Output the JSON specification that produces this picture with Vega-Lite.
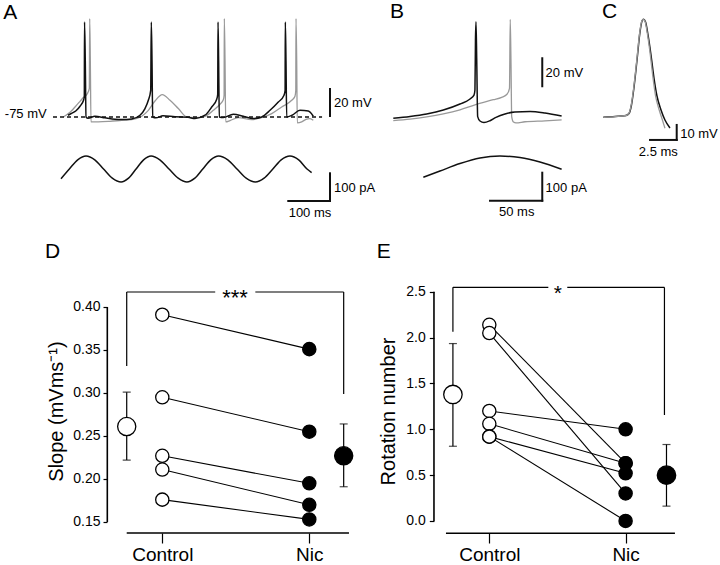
{
 "$schema": "https://vega.github.io/schema/vega-lite/v6.json",
 "padding": 0,
 "background": "white",
 "spacing": 0,
 "config": {
  "font": "Liberation Sans",
  "view": {"stroke": null},
  "text": {"color": "#000"},
  "axis": {"labelFont": "Liberation Sans", "titleFont": "Liberation Sans", "labelColor": "#000", "titleColor": "#000", "tickColor": "#000", "grid": false, "domain": false, "labelFlush": false, "labelOverlap": false}
 },
 "datasets": {
  "A_black": [{"t":16.8,"v":-73.8},{"t":26.4,"v":-72.4},{"t":36,"v":-70.7},{"t":45.6,"v":-67.6},{"t":54,"v":-63.5},{"t":55.9,"v":-60.7},{"t":56.4,"v":-9.5},{"t":58.2,"v":-35.9},{"t":60,"v":-75},{"t":64.7,"v":-75.9},{"t":81.5,"v":-74.5},{"t":105.5,"v":-75.6},{"t":129.5,"v":-76.6},{"t":145.6,"v":-76.8},{"t":169.5,"v":-76.4},{"t":189.4,"v":-73.8},{"t":201.4,"v":-69.2},{"t":209.4,"v":-63.5},{"t":215.1,"v":-56.6},{"t":216.5,"v":-9.5},{"t":218.2,"v":-35.9},{"t":219.9,"v":-75},{"t":227.8,"v":-75.6},{"t":244.6,"v":-74.2},{"t":273.4,"v":-74.9},{"t":304.6,"v":-75.2},{"t":321.3,"v":-76.1},{"t":345.3,"v":-73.8},{"t":361.4,"v":-68.1},{"t":373.4,"v":-62.7},{"t":375.8,"v":-59.3},{"t":376.5,"v":-9.5},{"t":378,"v":-35.9},{"t":379.6,"v":-75},{"t":389.2,"v":-75.4},{"t":413.2,"v":-73.1},{"t":437.2,"v":-74.5},{"t":461.1,"v":-76.1},{"t":481.3,"v":-75},{"t":501.2,"v":-70.4},{"t":521.1,"v":-64.7},{"t":534.8,"v":-60},{"t":537.4,"v":-56.6},{"t":537.9,"v":-9.5},{"t":539.5,"v":-35.9},{"t":541.2,"v":-75},{"t":553.9,"v":-73.8},{"t":573.1,"v":-70.4},{"t":593,"v":-70.9},{"t":605,"v":-74.5}],
  "A_gray": [{"t":5.5,"v":-75},{"t":21.6,"v":-71.8},{"t":33.6,"v":-68.1},{"t":45.6,"v":-64.2},{"t":53.5,"v":-61.6},{"t":63.1,"v":-58.9},{"t":67.9,"v":-55.2},{"t":68.8,"v":-7.1},{"t":70.3,"v":-35.9},{"t":71.9,"v":-78.4},{"t":89.4,"v":-78.4},{"t":117.5,"v":-78},{"t":145.6,"v":-77.3},{"t":169.5,"v":-76.8},{"t":193.5,"v":-74.5},{"t":209.4,"v":-70.4},{"t":225.4,"v":-64},{"t":242.9,"v":-59.6},{"t":261.4,"v":-63.5},{"t":281.3,"v":-69.2},{"t":301.4,"v":-75},{"t":321.3,"v":-75.4},{"t":345.3,"v":-74.5},{"t":365.2,"v":-70.4},{"t":381.3,"v":-66.2},{"t":389.2,"v":-63.1},{"t":391.1,"v":-60},{"t":391.6,"v":-7.1},{"t":393.3,"v":-35.9},{"t":395,"v":-78.4},{"t":405.3,"v":-77.5},{"t":425.2,"v":-75.4},{"t":457.3,"v":-76.8},{"t":481.3,"v":-75.4},{"t":505.3,"v":-72.7},{"t":529.2,"v":-68.1},{"t":553.2,"v":-63.5},{"t":561.1,"v":-60.7},{"t":563,"v":-56.6},{"t":563.5,"v":-7.1},{"t":565.2,"v":-35.9},{"t":566.6,"v":-79.1},{"t":577.2,"v":-78.4},{"t":587.5,"v":-76.6},{"t":597.1,"v":-76.1},{"t":605,"v":-77.3}],
  "A_cur": [{"t":0,"i":-35},{"t":20,"i":0},{"t":40,"i":33},{"t":60,"i":47},{"t":81,"i":33},{"t":102,"i":0},{"t":123,"i":-33},{"t":144,"i":-47},{"t":162,"i":-33},{"t":180,"i":0},{"t":198,"i":33},{"t":216,"i":47},{"t":237,"i":33},{"t":259,"i":0},{"t":281,"i":-33},{"t":302,"i":-47},{"t":321,"i":-33},{"t":340,"i":0},{"t":359,"i":33},{"t":378,"i":47},{"t":400,"i":33},{"t":422,"i":0},{"t":444,"i":-33},{"t":466,"i":-47},{"t":487,"i":-33},{"t":508,"i":0},{"t":528,"i":33},{"t":549,"i":47},{"t":570,"i":33},{"t":590,"i":0},{"t":601,"i":-13}],
  "B_black": [{"t":0,"v":-75},{"t":16,"v":-73.8},{"t":31.9,"v":-72.1},{"t":47.8,"v":-69.5},{"t":63.7,"v":-65.5},{"t":73.3,"v":-62.1},{"t":77.1,"v":-59.5},{"t":78,"v":-56.1},{"t":78.5,"v":-22.8},{"t":79,"v":-10.6},{"t":79.7,"v":-36},{"t":80.6,"v":-73.9},{"t":82.8,"v":-76.8},{"t":86.6,"v":-77.8},{"t":92.4,"v":-76.6},{"t":98.1,"v":-74.4},{"t":106.7,"v":-72.1},{"t":116.2,"v":-70.8},{"t":130.6,"v":-70.5},{"t":144.9,"v":-71.5},{"t":160.8,"v":-73.5}],
  "B_gray": [{"t":0,"v":-76.5},{"t":16,"v":-75.5},{"t":31.9,"v":-74},{"t":47.8,"v":-72},{"t":63.7,"v":-69.3},{"t":78,"v":-66},{"t":95.5,"v":-62.6},{"t":103.5,"v":-61},{"t":108.6,"v":-59},{"t":111,"v":-55},{"t":111.7,"v":-9},{"t":112.4,"v":-36.2},{"t":113.1,"v":-73.9},{"t":114.8,"v":-77.5},{"t":117.2,"v":-78.1},{"t":125.8,"v":-77.3},{"t":144.9,"v":-76.7},{"t":160.8,"v":-76.1}],
  "B_cur": [{"t":28.7,"i":-26},{"t":44.6,"i":-3.6},{"t":63.7,"i":23},{"t":82.8,"i":43},{"t":101.9,"i":50},{"t":121,"i":44.6},{"t":140.1,"i":28.6},{"t":160.8,"i":2.5}],
  "C_black": [{"t":-0.16,"v":-75.4},{"t":0.94,"v":-74.9},{"t":1.97,"v":-74.2},{"t":2.25,"v":-72.9},{"t":2.48,"v":-67.2},{"t":2.72,"v":-55.2},{"t":3.0,"v":-37.2},{"t":3.28,"v":-18.5},{"t":3.47,"v":-11.2},{"t":3.61,"v":-10.1},{"t":3.8,"v":-11.9},{"t":4.03,"v":-20.5},{"t":4.31,"v":-33.9},{"t":4.59,"v":-49.2},{"t":4.87,"v":-61.2},{"t":5.25,"v":-70.5},{"t":5.62,"v":-77.2},{"t":6.09,"v":-82.5}],
  "C_gray": [{"t":-0.16,"v":-75.4},{"t":0.94,"v":-74.9},{"t":1.97,"v":-74.2},{"t":2.23,"v":-72.9},{"t":2.46,"v":-67.2},{"t":2.7,"v":-55.2},{"t":2.98,"v":-37.2},{"t":3.26,"v":-18.5},{"t":3.45,"v":-11.2},{"t":3.6,"v":-10.1},{"t":3.77,"v":-11.9},{"t":3.99,"v":-20.5},{"t":4.25,"v":-33.9},{"t":4.5,"v":-49.2},{"t":4.74,"v":-61.2},{"t":5.08,"v":-70.5},{"t":5.38,"v":-77.2},{"t":5.62,"v":-82.7}],
  "D_pts": [{"cell":1,"cond":"Control","x":1,"y":0.391},{"cell":1,"cond":"Nic","x":2,"y":0.351},{"cell":2,"cond":"Control","x":1,"y":0.295},{"cell":2,"cond":"Nic","x":2,"y":0.255},{"cell":3,"cond":"Control","x":1,"y":0.227},{"cell":3,"cond":"Nic","x":2,"y":0.195},{"cell":4,"cond":"Control","x":1,"y":0.211},{"cell":4,"cond":"Nic","x":2,"y":0.170},{"cell":5,"cond":"Control","x":1,"y":0.176},{"cell":5,"cond":"Nic","x":2,"y":0.153}],
  "D_mean": [{"cond":"Control","x":0.758,"y":0.261},{"cond":"Nic","x":2.234,"y":0.227}],
  "D_err": [{"x":0.758,"y":0.222,"y2":0.301},{"x":2.234,"y":0.191,"y2":0.264}],
  "D_caps": [{"x":0.758,"y":0.222},{"x":0.758,"y":0.301},{"x":2.234,"y":0.191},{"x":2.234,"y":0.264}],
  "E_pts": [{"cell":1,"cond":"Control","x":1,"y":2.14},{"cell":1,"cond":"Nic","x":2,"y":0.63},{"cell":2,"cond":"Control","x":1,"y":2.05},{"cell":2,"cond":"Nic","x":2,"y":0.30},{"cell":3,"cond":"Control","x":1,"y":1.20},{"cell":3,"cond":"Nic","x":2,"y":1.00},{"cell":4,"cond":"Control","x":1,"y":1.06},{"cell":4,"cond":"Nic","x":2,"y":0.63},{"cell":5,"cond":"Control","x":1,"y":0.92},{"cell":5,"cond":"Nic","x":2,"y":0.52},{"cell":6,"cond":"Control","x":1,"y":0.92},{"cell":6,"cond":"Nic","x":2,"y":0.0}],
  "E_mean": [{"cond":"Control","x":0.733,"y":1.38},{"cond":"Nic","x":2.30,"y":0.50}],
  "E_err": [{"x":0.733,"y":0.815,"y2":1.935},{"x":2.30,"y":0.162,"y2":0.834}],
  "E_caps": [{"x":0.733,"y":0.815},{"x":0.733,"y":1.935},{"x":2.30,"y":0.162},{"x":2.30,"y":0.834}]
 },
 "vconcat": [
  {
   "spacing": 0,
   "bounds": "flush",
   "hconcat": [
    {
     "width": 360, "height": 235,
     "resolve": {"scale": {"y": "independent"}},
     "layer": [
      {
       "encoding": {
        "x": {"field": "t", "type": "quantitative", "scale": {"domain": [-146.3, 717]}, "axis": null},
        "y": {"field": "v", "type": "quantitative", "scale": {"domain": [-156.4, 5.69]}, "axis": null}
       },
       "layer": [
        {"data": {"name": "A_gray"}, "mark": {"type": "line", "stroke": "#999", "strokeWidth": 1.3, "interpolate": "monotone"}},
        {"data": {"name": "A_black"}, "mark": {"type": "line", "stroke": "#111", "strokeWidth": 1.5, "interpolate": "monotone"}},
        {"data": {"values": [{"t": -19.2, "t2": 626, "v": -75}]}, "mark": {"type": "rule", "stroke": "#111", "strokeWidth": 1.4, "strokeDash": [4, 3]}, "encoding": {"x2": {"field": "t2"}}},
        {"data": {"values": [{"t": 645, "v": -75, "v2": -55}]}, "mark": {"type": "rule", "stroke": "#111", "strokeWidth": 2}, "encoding": {"y2": {"field": "v2"}}},
        {"data": {"values": [{"t": 654.7, "v": -65.6, "label": "20 mV"}]}, "mark": {"type": "text", "align": "left", "baseline": "middle", "fontSize": 13}, "encoding": {"text": {"field": "label"}}},
        {"data": {"values": [{"t": -34.3, "v": -72.65, "label": "-75 mV"}]}, "mark": {"type": "text", "align": "right", "baseline": "middle", "fontSize": 13}, "encoding": {"text": {"field": "label"}}},
        {"data": {"values": [{"t": -138.4, "v": -3.13, "label": "A"}]}, "mark": {"type": "text", "align": "left", "baseline": "middle", "fontSize": 21}, "encoding": {"text": {"field": "label"}}}
       ]
      },
      {
       "encoding": {
        "x": {"field": "t", "type": "quantitative", "scale": {"domain": [-146.3, 717]}, "axis": null},
        "y": {"field": "i", "type": "quantitative", "scale": {"domain": [-238.3, 610.1]}, "axis": null}
       },
       "layer": [
        {"data": {"name": "A_cur"}, "mark": {"type": "line", "stroke": "#111", "strokeWidth": 1.5, "interpolate": "monotone"}},
        {"data": {"values": [{"t": 645, "t2": 645, "i": -15.5, "i2": -115.5}, {"t": 545, "t2": 645, "i": -115.5, "i2": -115.5}]}, "mark": {"type": "rule", "stroke": "#111", "strokeWidth": 2, "strokeCap": "square"}, "encoding": {"x2": {"field": "t2"}, "y2": {"field": "i2"}}},
        {"data": {"values": [{"t": 654.7, "i": -69.7, "label": "100 pA"}]}, "mark": {"type": "text", "align": "left", "baseline": "middle", "fontSize": 13}, "encoding": {"text": {"field": "label"}}},
        {"data": {"values": [{"t": 597, "i": -157.5, "label": "100 ms"}]}, "mark": {"type": "text", "align": "center", "baseline": "middle", "fontSize": 13}, "encoding": {"text": {"field": "label"}}}
       ]
      }
     ]
    },
    {
     "width": 230, "height": 235,
     "resolve": {"scale": {"y": "independent"}},
     "layer": [
      {
       "encoding": {
        "x": {"field": "t", "type": "quantitative", "scale": {"domain": [-31.8, 187.9]}, "axis": null},
        "y": {"field": "v", "type": "quantitative", "scale": {"domain": [-152.8, 3.87]}, "axis": null}
       },
       "layer": [
        {"data": {"name": "B_gray"}, "mark": {"type": "line", "stroke": "#999", "strokeWidth": 1.3, "interpolate": "monotone"}},
        {"data": {"name": "B_black"}, "mark": {"type": "line", "stroke": "#111", "strokeWidth": 1.5, "interpolate": "monotone"}},
        {"data": {"values": [{"t": 142.3, "v": -54.3, "v2": -34.3}]}, "mark": {"type": "rule", "stroke": "#111", "strokeWidth": 2}, "encoding": {"y2": {"field": "v2"}}},
        {"data": {"values": [{"t": 145.5, "v": -44.6, "label": "20 mV"}]}, "mark": {"type": "text", "align": "left", "baseline": "middle", "fontSize": 13}, "encoding": {"text": {"field": "label"}}},
        {"data": {"values": [{"t": -3.2, "v": -4.1, "label": "B"}]}, "mark": {"type": "text", "align": "left", "baseline": "middle", "fontSize": 21}, "encoding": {"text": {"field": "label"}}}
       ]
      },
      {
       "encoding": {
        "x": {"field": "t", "type": "quantitative", "scale": {"domain": [-31.8, 187.9]}, "axis": null},
        "y": {"field": "i", "type": "quantitative", "scale": {"domain": [-232.1, 607.1]}, "axis": null}
       },
       "layer": [
        {"data": {"name": "B_cur"}, "mark": {"type": "line", "stroke": "#111", "strokeWidth": 1.5, "interpolate": "monotone"}},
        {"data": {"values": [{"t": 142.3, "t2": 142.3, "i": -9.6, "i2": -109.6}, {"t": 92.4, "t2": 142.3, "i": -109.6, "i2": -109.6}]}, "mark": {"type": "rule", "stroke": "#111", "strokeWidth": 2, "strokeCap": "square"}, "encoding": {"x2": {"field": "t2"}, "y2": {"field": "i2"}}},
        {"data": {"values": [{"t": 145.5, "i": -65.4, "label": "100 pA"}]}, "mark": {"type": "text", "align": "left", "baseline": "middle", "fontSize": 13}, "encoding": {"text": {"field": "label"}}},
        {"data": {"values": [{"t": 117.9, "i": -149, "label": "50 ms"}]}, "mark": {"type": "text", "align": "center", "baseline": "middle", "fontSize": 13}, "encoding": {"text": {"field": "label"}}}
       ]
      }
     ]
    },
    {
     "width": 130, "height": 235,
     "encoding": {
      "x": {"field": "t", "type": "quantitative", "scale": {"domain": [-1.406, 10.778]}, "axis": null},
      "y": {"field": "v", "type": "quantitative", "scale": {"domain": [-153.87, 2.8]}, "axis": null}
     },
     "layer": [
      {"data": {"name": "C_black"}, "mark": {"type": "line", "stroke": "#111", "strokeWidth": 1.5, "interpolate": "monotone"}},
      {"data": {"name": "C_gray"}, "mark": {"type": "line", "stroke": "#999", "strokeWidth": 1.3, "interpolate": "monotone"}},
      {"data": {"values": [{"t": 6.72, "t2": 6.72, "v": -80.5, "v2": -90.5}, {"t": 4.22, "t2": 6.72, "v": -90.5, "v2": -90.5}]}, "mark": {"type": "rule", "stroke": "#111", "strokeWidth": 2, "strokeCap": "square"}, "encoding": {"x2": {"field": "t2"}, "y2": {"field": "v2"}}},
      {"data": {"values": [{"t": 7.05, "v": -86.5, "label": "10 mV"}]}, "mark": {"type": "text", "align": "left", "baseline": "middle", "fontSize": 13}, "encoding": {"text": {"field": "label"}}},
      {"data": {"values": [{"t": 5.0, "v": -98.3, "label": "2.5 ms"}]}, "mark": {"type": "text", "align": "center", "baseline": "middle", "fontSize": 13}, "encoding": {"text": {"field": "label"}}},
      {"data": {"values": [{"t": -0.28, "v": -5.2, "label": "C"}]}, "mark": {"type": "text", "align": "left", "baseline": "middle", "fontSize": 21}, "encoding": {"text": {"field": "label"}}}
     ]
    }
   ]
  },
  {
   "spacing": 0,
   "bounds": "flush",
   "hconcat": [
    {
     "width": 360, "height": 330,
     "encoding": {
      "x": {"field": "x", "type": "quantitative", "scale": {"domain": [-0.104, 2.345]},
            "axis": {"orient": "bottom", "offset": -32, "values": [1, 2], "labelExpr": "datum.value == 1 ? 'Control' : 'Nic'", "tickSize": 10, "tickWidth": 1.2, "labelFontSize": 19, "labelPadding": 2, "title": null}},
      "y": {"field": "y", "type": "quantitative", "scale": {"domain": [0.1, 0.4837]},
            "axis": {"orient": "left", "offset": -107, "values": [0.15, 0.2, 0.25, 0.3, 0.35, 0.4], "format": ".2f", "tickSize": 4, "tickWidth": 1.2, "labelFontSize": 14, "labelPadding": 3, "title": "Slope (mVms⁻¹)", "titleFontSize": 20, "titleFontWeight": "normal", "titlePadding": 6, "titleY": 176}}
     },
     "layer": [
      {"data": {"values": [{"x": 0.626, "x2": 0.626, "y": 0.15, "y2": 0.40}, {"x": 0.758, "x2": 2.27, "y": 0.13721, "y2": 0.13721}]}, "mark": {"type": "rule", "stroke": "#000", "strokeWidth": 1.6}, "encoding": {"x2": {"field": "x2"}, "y2": {"field": "y2"}}},
      {"data": {"values": [{"x": 0.758, "x2": 0.758, "y": 0.3314, "y2": 0.4174}, {"x": 0.758, "x2": 1.36, "y": 0.4174, "y2": 0.4174}, {"x": 1.633, "x2": 2.234, "y": 0.4174, "y2": 0.4174}, {"x": 2.234, "x2": 2.234, "y": 0.4174, "y2": 0.2988}]}, "mark": {"type": "rule", "stroke": "#000", "strokeWidth": 1.2}, "encoding": {"x2": {"field": "x2"}, "y2": {"field": "y2"}}},
      {"data": {"values": [{"x": 1.495, "y": 0.4023, "label": "***"}]}, "mark": {"type": "text", "align": "center", "baseline": "alphabetic", "fontSize": 22}, "encoding": {"text": {"field": "label"}}},
      {"data": {"name": "D_pts"}, "mark": {"type": "line", "stroke": "#000", "strokeWidth": 1.1}, "encoding": {"detail": {"field": "cell"}}},
      {"data": {"name": "D_err"}, "mark": {"type": "rule", "stroke": "#000", "strokeWidth": 1.2}, "encoding": {"y2": {"field": "y2"}}},
      {"data": {"name": "D_caps"}, "mark": {"type": "tick", "orient": "horizontal", "size": 8, "thickness": 1.2, "color": "#000"}},
      {"data": {"name": "D_mean"}, "mark": {"type": "circle", "size": 330, "stroke": "#000", "strokeWidth": 1.3, "opacity": 1}, "encoding": {"fill": {"field": "cond", "type": "nominal", "scale": {"domain": ["Control", "Nic"], "range": ["#ffffff", "#000000"]}, "legend": null}}},
      {"data": {"name": "D_pts"}, "mark": {"type": "circle", "size": 175, "stroke": "#000", "strokeWidth": 1.3, "opacity": 1}, "encoding": {"fill": {"field": "cond", "type": "nominal", "scale": {"domain": ["Control", "Nic"], "range": ["#ffffff", "#000000"]}, "legend": null}}},
      {"data": {"values": [{"x": 0.202, "y": 0.464, "label": "D"}]}, "mark": {"type": "text", "align": "left", "baseline": "middle", "fontSize": 21}, "encoding": {"text": {"field": "label"}}}
     ]
    },
    {
     "width": 360, "height": 330,
     "encoding": {
      "x": {"field": "x", "type": "quantitative", "scale": {"domain": [0.0513, 2.6926]},
            "axis": {"orient": "bottom", "offset": -32, "values": [1, 2], "labelExpr": "datum.value == 1 ? 'Control' : 'Nic'", "tickSize": 10, "tickWidth": 1.2, "labelFontSize": 19, "labelPadding": 2, "title": null}},
      "y": {"field": "y", "type": "quantitative", "scale": {"domain": [-0.48, 3.119]},
            "axis": {"orient": "left", "offset": -74, "values": [0, 0.5, 1, 1.5, 2, 2.5], "format": ".1f", "tickSize": 4.7, "tickWidth": 1.2, "labelFontSize": 14, "labelPadding": 4, "title": "Rotation number", "titleFontSize": 20, "titleFontWeight": "normal", "titlePadding": 7, "titleY": 176}}
     },
     "layer": [
      {"data": {"values": [{"x": 0.594, "x2": 0.594, "y": 0, "y2": 2.5}, {"x": 0.682, "x2": 2.362, "y": -0.134, "y2": -0.134}]}, "mark": {"type": "rule", "stroke": "#000", "strokeWidth": 1.6}, "encoding": {"x2": {"field": "x2"}, "y2": {"field": "y2"}}},
      {"data": {"values": [{"x": 0.733, "x2": 0.733, "y": 2.064, "y2": 2.548}, {"x": 0.733, "x2": 1.433, "y": 2.548, "y2": 2.548}, {"x": 1.572, "x2": 2.285, "y": 2.548, "y2": 2.548}, {"x": 2.285, "x2": 2.285, "y": 2.548, "y2": 1.156}]}, "mark": {"type": "rule", "stroke": "#000", "strokeWidth": 1.2}, "encoding": {"x2": {"field": "x2"}, "y2": {"field": "y2"}}},
      {"data": {"values": [{"x": 1.502, "y": 2.408, "label": "*"}]}, "mark": {"type": "text", "align": "center", "baseline": "alphabetic", "fontSize": 21}, "encoding": {"text": {"field": "label"}}},
      {"data": {"name": "E_pts"}, "mark": {"type": "line", "stroke": "#000", "strokeWidth": 1.1}, "encoding": {"detail": {"field": "cell"}}},
      {"data": {"name": "E_err"}, "mark": {"type": "rule", "stroke": "#000", "strokeWidth": 1.2}, "encoding": {"y2": {"field": "y2"}}},
      {"data": {"name": "E_caps"}, "mark": {"type": "tick", "orient": "horizontal", "size": 8, "thickness": 1.2, "color": "#000"}},
      {"data": {"name": "E_mean"}, "mark": {"type": "circle", "size": 340, "stroke": "#000", "strokeWidth": 1.3, "opacity": 1}, "encoding": {"fill": {"field": "cond", "type": "nominal", "scale": {"domain": ["Control", "Nic"], "range": ["#ffffff", "#000000"]}, "legend": null}}},
      {"data": {"name": "E_pts"}, "mark": {"type": "circle", "size": 175, "stroke": "#000", "strokeWidth": 1.3, "opacity": 1}, "encoding": {"fill": {"field": "cond", "type": "nominal", "scale": {"domain": ["Control", "Nic"], "range": ["#ffffff", "#000000"]}, "legend": null}}},
      {"data": {"values": [{"x": 0.174, "y": 2.933, "label": "E"}]}, "mark": {"type": "text", "align": "left", "baseline": "middle", "fontSize": 21}, "encoding": {"text": {"field": "label"}}}
     ]
    }
   ]
  }
 ]
}
